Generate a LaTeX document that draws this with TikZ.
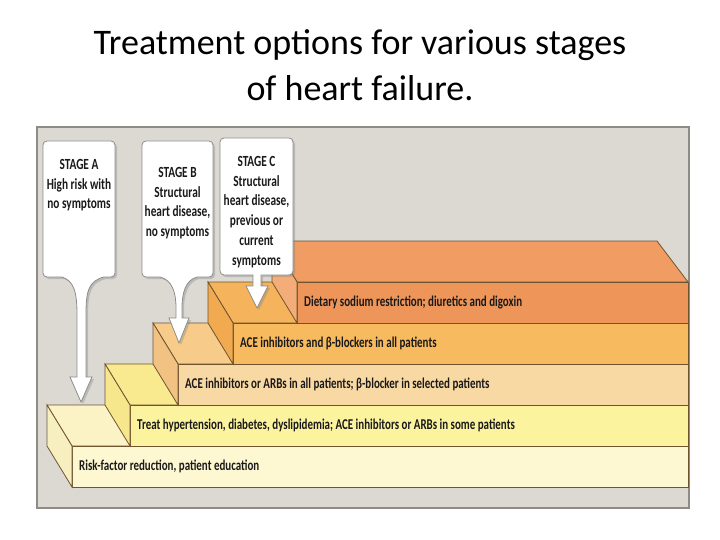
\documentclass[tikz,border=0pt]{standalone}
\usepackage{fontspec}
\setmainfont{Carlito}
\newfontfamily\condfont{Carlito}[FakeStretch=0.73]
\usepackage{tikz}
\usetikzlibrary{shadows}

\definecolor{panelgray}{HTML}{DCD9D3}
\definecolor{paneledge}{HTML}{8E8B86}
\definecolor{stepedge}{HTML}{6E5530}
\definecolor{rkfront}{HTML}{FEF8D2}
\definecolor{rktop}{HTML}{FBF3C6}
\definecolor{rkside}{HTML}{F8EFC0}
\definecolor{trfront}{HTML}{FCF39E}
\definecolor{trtop}{HTML}{F9EA90}
\definecolor{trside}{HTML}{F6E68C}
\definecolor{aafront}{HTML}{F9D9A3}
\definecolor{aatop}{HTML}{F7CB8A}
\definecolor{aaside}{HTML}{F2C283}
\definecolor{abfront}{HTML}{F7BA5E}
\definecolor{abtop}{HTML}{F5B45B}
\definecolor{abside}{HTML}{F1AA50}
\definecolor{dtfront}{HTML}{EE9659}
\definecolor{dttop}{HTML}{F09C62}
\definecolor{dtside}{HTML}{F4AD78}

\begin{document}
\begin{tikzpicture}[x=1pt,y=-1pt,
  stepline/.style={draw=stepedge,line width=0.8pt},
  steptxt/.style={anchor=west,inner sep=0pt,text=black!90,
    font=\condfont\bfseries\fontsize{15}{18}\selectfont},
  callout/.style={draw=black!45,fill=white,line width=0.8pt,
    drop shadow={opacity=0.35,shadow xshift=2pt,shadow yshift=-2pt}},
  stagetxt/.style={anchor=north,align=center,inner sep=0pt,text=black!90,
    font=\condfont\bfseries\fontsize{15.5}{19.8}\selectfont},
]
  \useasboundingbox (0,0) rectangle (720,540);

  \node[anchor=north,align=center,inner sep=0pt,font=\fontsize{36}{46}\selectfont]
    (title) at (360,29.5) {Treatment options for various stages\\of heart failure.};

  % grey panel behind the steps
  \draw[fill=panelgray,draw=paneledge,line width=1.5pt] (37,127) rectangle (689,508);

  % the five steps, front to back
  \foreach \i/\xl/\yt/\tp/\fr/\sd/\txt in {
    1/72/446/rktop/rkfront/rkside/{Risk-factor reduction, patient education},
    2/130/405/trtop/trfront/trside/{Treat hypertension, diabetes, dyslipidemia; ACE inhibitors or ARBs in some patients},
    3/178/364/aatop/aafront/aaside/{ACE inhibitors or ARBs in all patients; β-blocker in selected patients},
    4/233/323/abtop/abfront/abside/{ACE inhibitors and β-blockers in all patients},
    5/297/282/dttop/dtfront/dtside/{Dietary sodium restriction; diuretics and digoxin}} {
    \draw[stepline,fill=\tp] (\xl-25,\yt-41) -- (657,\yt-41) -- (688,\yt) -- (\xl,\yt) -- cycle;
    \draw[stepline,fill=\fr] (\xl,\yt) rectangle (688,\yt+41);
    \draw[stepline,fill=\sd] (\xl-25,\yt-41) -- (\xl,\yt) -- (\xl,\yt+41) -- (\xl-25,\yt) -- cycle;
    \node[steptxt] (t\i) at (\xl+7,\yt+20.5) {\txt};
  }

  % stage callouts with their arrows
  \draw[callout] (62,277) [rounded corners=4pt] -- (43,277) -- (43,141) -- (115,141) -- (115,277)
    [sharp corners] -- (104,277) .. controls (88,281) and (86,292) .. (86,315) -- (86,377) -- (92,377)
    -- (81,402) -- (70,377) -- (77,377) -- (77,315) .. controls (77,292) and (74,281) .. (62,277) -- cycle;
  \draw[callout] (160,277) [rounded corners=4pt] -- (142,277) -- (142,141) -- (213,141) -- (213,277)
    [sharp corners] -- (197,277) .. controls (186,280) and (182,292) .. (182,308) -- (182,318) -- (189,318)
    -- (179,343) -- (169,318) -- (176,318) -- (176,308) .. controls (176,292) and (172,280) .. (160,277) -- cycle;
  \draw[callout] (253,275) [rounded corners=4pt] -- (220,275) -- (220,138) -- (293,138) -- (293,275)
    [sharp corners] -- (261,275) -- (261,286) -- (268,286) -- (257,308) -- (246,286) -- (253,286) -- cycle;

  \node[stagetxt] (stA) at (79,159) {STAGE A\\High risk with\\no symptoms};
  \node[stagetxt] (stB) at (177.5,167) {STAGE B\\Structural\\heart disease,\\no symptoms};
  \node[stagetxt] (stC) at (256.5,156) {STAGE C\\Structural\\heart disease,\\previous or\\current\\symptoms};
\end{tikzpicture}
\end{document}
